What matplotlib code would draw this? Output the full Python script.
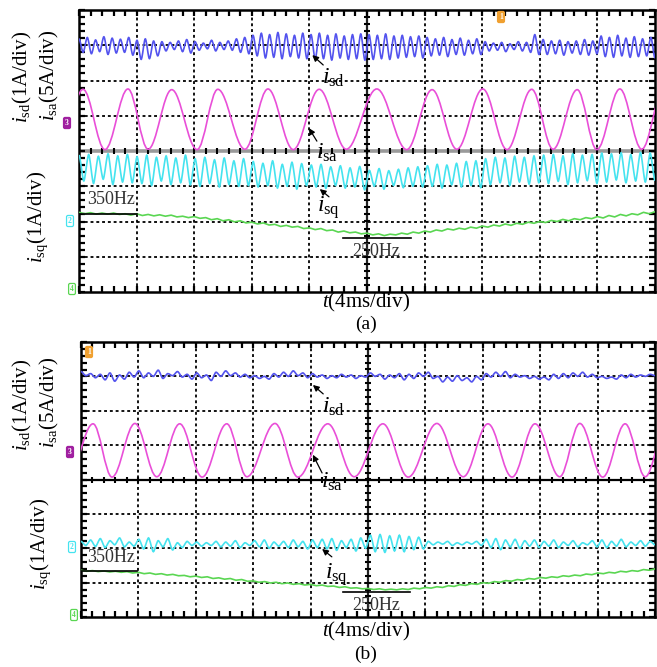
import numpy as np
import matplotlib
matplotlib.use('Agg')
import matplotlib.pyplot as plt
from matplotlib.path import Path
from matplotlib.patches import PathPatch
from matplotlib.ticker import MultipleLocator

plt.rcParams['font.family'] = ['Liberation Serif', 'DejaVu Serif']
plt.rcParams['mathtext.fontset'] = 'custom'
plt.rcParams['mathtext.rm'] = 'Liberation Serif'
plt.rcParams['mathtext.it'] = 'Liberation Serif:italic'

# ---------------- data (x in divisions, 4 ms/div; y in divisions) ----------------
# panel (a)
isd_a = [3.18, 2.80, 3.22, 2.76, 3.15, 2.82, 3.24, 2.74, 3.20, 2.78, 3.17, 2.80, 3.22, 2.72,
         3.14, 2.60, 3.18, 2.62, 3.12, 2.70, 3.10, 2.84, 3.08, 2.88, 3.12, 2.82, 3.16, 2.78,
         3.10, 2.86, 3.06, 2.90, 3.14, 2.84, 3.08, 2.88, 3.12, 2.86, 3.18, 2.80, 3.22, 2.76,
         3.28, 2.70, 3.34, 2.64, 3.30, 2.66, 3.36, 2.62, 3.32, 2.68, 3.28, 2.64, 3.34, 2.62,
         3.30, 2.60, 3.34, 2.62, 3.28, 2.58, 3.32, 2.64, 3.26, 2.60, 3.30, 2.62, 3.32, 2.58,
         3.30, 2.60, 3.28, 2.62, 3.32, 2.60, 3.26, 2.64, 3.28, 2.66, 3.24, 2.68, 3.26, 2.64,
         3.22, 2.70, 3.18, 2.72, 3.22, 2.68, 3.16, 2.74, 3.20, 2.72, 3.14, 2.76, 3.18, 2.74,
         3.10, 2.84, 3.06, 2.86, 3.08, 2.82, 3.04, 2.88, 3.10, 2.84, 3.08, 2.80, 3.30, 2.74,
         3.16, 2.74, 3.12, 2.76, 3.14, 2.72, 3.10, 2.78, 3.12, 2.74, 3.16, 2.72, 3.12, 2.76,
         3.26, 2.68, 3.22, 2.66, 3.28, 2.70, 3.20, 2.66, 3.24, 2.68, 3.18, 2.70, 3.22, 2.64]

isa_a_t = [-0.32, 0.07, 0.45, 0.85, 1.20, 1.61, 2.05, 2.41, 2.88, 3.28, 3.72, 4.17, 4.64,
           5.17, 5.69, 6.13, 6.56, 7.01, 7.43, 7.86, 8.23, 8.65, 8.99, 9.39, 9.77, 10.15]
isa_a_v = [0.05, 1.75, 0.04, 1.76, 0.05, 1.74, 0.04, 1.75, 0.05, 1.76, 0.04, 1.75, 0.05,
           1.76, 0.04, 1.74, 0.05, 1.76, 0.04, 1.75, 0.05, 1.74, 0.04, 1.76, 0.05, 1.75]

isq_a = [-0.12, -0.85, -0.10, -0.92, -0.15, -0.80, -0.08, -0.95, -0.14, -0.88, -0.10, -0.90,
         -0.16, -0.92, -0.12, -0.98, -0.18, -0.85, -0.14, -0.95, -0.20, -0.90, -0.12, -0.96,
         -0.22, -1.00, -0.18, -0.92, -0.25, -1.02, -0.20, -0.95, -0.28, -1.00, -0.22, -0.98,
         -0.30, -1.02, -0.35, -0.98, -0.28, -1.05, -0.38, -1.00, -0.32, -1.08, -0.36, -0.98,
         -0.40, -1.02, -0.38, -1.06, -0.45, -0.98, -0.42, -1.05, -0.48, -1.02, -0.44, -1.10,
         -0.55, -1.00, -0.50, -1.08, -0.56, -0.98, -0.52, -1.04, -0.48, -1.00, -0.45, -1.02,
         -0.42, -1.00, -0.38, -1.05, -0.40, -0.96, -0.35, -1.02, -0.30, -0.98, -0.28, -1.04,
         -0.22, -0.95, -0.18, -0.90, -0.20, -0.98, -0.15, -0.88, -0.18, -0.94, -0.14, -0.90,
         -0.12, -0.92, -0.10, -0.86, -0.14, -0.95, -0.08, -0.90, -0.12, -0.84, -0.10, -0.92,
         -0.06, -0.88, -0.08, -0.82, -0.05, -0.90, -0.10, -0.85, -0.04, -0.88, -0.06, -0.84]

freq_a = [-1.74, -1.78, -1.75, -1.79, -1.76, -1.79, -1.76, -1.80, -1.78, -1.82,
          -1.78, -1.83, -1.80, -1.84, -1.81, -1.85, -1.82, -1.87, -1.85, -1.89,
          -1.86, -1.91, -1.89, -1.95, -1.92, -1.98, -1.95, -2.01, -1.98, -2.04,
          -2.02, -2.07, -2.04, -2.10, -2.08, -2.14, -2.11, -2.16, -2.14, -2.20,
          -2.18, -2.23, -2.20, -2.26, -2.24, -2.30, -2.27, -2.32, -2.30, -2.35,
          -2.33, -2.38, -2.35, -2.40, -2.36, -2.38, -2.33, -2.36, -2.30, -2.33,
          -2.27, -2.30, -2.24, -2.27, -2.21, -2.24, -2.19, -2.22, -2.16, -2.19,
          -2.13, -2.16, -2.10, -2.13, -2.07, -2.11, -2.05, -2.08, -2.02, -2.05,
          -2.00, -2.03, -1.97, -2.00, -1.94, -1.98, -1.92, -1.95, -1.89, -1.92,
          -1.86, -1.90, -1.83, -1.87, -1.80, -1.84, -1.78, -1.81, -1.74, -1.78, -1.72]

# panel (b)
isd_b = [3.14, 3.02, 3.08, 2.96, 3.06, 2.90, 3.10, 2.86, 3.04, 2.92, 3.12, 2.98,
         3.16, 2.96, 3.10, 3.00, 3.18, 2.94, 3.08, 3.02, 3.14, 2.98, 3.06, 2.92,
         3.10, 2.96, 3.04, 2.88, 3.12, 3.00, 3.16, 3.02, 3.10, 2.98, 3.06, 2.96,
         3.02, 2.94, 3.00, 2.92, 3.08, 2.98, 3.12, 3.00, 3.16, 3.02, 3.10, 2.96,
         3.08, 2.98, 3.04, 2.94, 3.02, 2.96, 3.06, 2.98, 3.04, 2.94, 3.02, 2.98,
         3.10, 3.00, 3.06, 2.92, 3.04, 2.96, 3.08, 2.90, 3.06, 2.94, 3.10, 3.00,
         3.12, 2.94, 3.00, 2.84, 2.98, 2.86, 3.02, 2.88, 2.96, 2.84, 3.00, 2.90,
         3.08, 2.98, 3.12, 3.00, 3.14, 2.96, 3.06, 2.98, 3.02, 2.94, 3.00, 2.92,
         2.98, 2.90, 3.06, 2.94, 3.08, 2.96, 3.10, 3.00, 3.12, 2.98, 3.06, 2.96,
         3.00, 2.94, 2.98, 2.92, 3.04, 2.96, 3.06, 2.98, 3.04, 3.00, 3.06, 3.02]

isa_b_t = [-0.22, 0.21, 0.54, 0.94, 1.32, 1.72, 2.11, 2.54, 2.89, 3.38, 3.78, 4.30, 4.76,
           5.26, 5.70, 6.20, 6.66, 7.09, 7.51, 7.91, 8.34, 8.69, 9.09, 9.48, 9.83, 10.2]
isa_b_v = [0.08, 1.62, 0.07, 1.63, 0.08, 1.62, 0.07, 1.62, 0.08, 1.63, 0.07, 1.62, 0.08,
           1.62, 0.07, 1.63, 0.08, 1.62, 0.07, 1.62, 0.08, 1.63, 0.07, 1.62, 0.08, 1.62]

isq_b = [-1.80, -1.92, -1.76, -1.95, -1.72, -1.98, -1.78, -1.90, -1.70, -1.96, -1.82, -1.94,
         -1.74, -2.02, -1.70, -2.10, -1.78, -1.96, -1.72, -2.05, -1.84, -1.98, -1.80, -1.92,
         -1.82, -1.94, -1.84, -1.92, -1.80, -1.96, -1.82, -1.94, -1.78, -1.98, -1.84, -1.92,
         -1.78, -1.96, -1.76, -2.00, -1.82, -1.94, -1.80, -1.98, -1.76, -1.96, -1.80, -2.02,
         -1.76, -1.98, -1.74, -2.02, -1.72, -2.06, -1.78, -1.98, -1.74, -2.08, -1.70, -2.00,
         -1.62, -2.10, -1.60, -2.12, -1.64, -2.08, -1.62, -2.10, -1.66, -2.04, -1.68, -2.02,
         -1.80, -1.90, -1.82, -1.88, -1.80, -1.92, -1.84, -1.90, -1.82, -1.88, -1.80, -1.92,
         -1.74, -1.98, -1.72, -2.04, -1.76, -1.96, -1.74, -2.00, -1.78, -1.94, -1.76, -1.98,
         -1.80, -1.94, -1.76, -1.98, -1.82, -1.92, -1.78, -1.96, -1.84, -1.90, -1.78, -1.96,
         -1.76, -1.98, -1.80, -1.94, -1.74, -1.96, -1.82, -1.92, -1.78, -1.94, -1.80, -1.90]

freq_b = [-2.64, -2.67, -2.65, -2.68, -2.66, -2.69, -2.67, -2.70, -2.68, -2.72,
          -2.70, -2.74, -2.72, -2.76, -2.74, -2.78, -2.76, -2.80, -2.79, -2.83,
          -2.81, -2.85, -2.83, -2.88, -2.86, -2.90, -2.88, -2.93, -2.91, -2.96,
          -2.95, -2.99, -2.97, -3.01, -2.99, -3.03, -3.01, -3.05, -3.03, -3.07,
          -3.05, -3.09, -3.07, -3.11, -3.10, -3.14, -3.12, -3.16, -3.15, -3.18,
          -3.17, -3.20, -3.18, -3.21, -3.19, -3.21, -3.18, -3.20, -3.16, -3.18,
          -3.14, -3.16, -3.12, -3.14, -3.09, -3.11, -3.06, -3.08, -3.03, -3.05,
          -3.00, -3.02, -2.97, -2.99, -2.94, -2.96, -2.91, -2.93, -2.88, -2.90,
          -2.85, -2.87, -2.83, -2.85, -2.80, -2.82, -2.78, -2.80, -2.75, -2.77,
          -2.72, -2.74, -2.70, -2.72, -2.67, -2.69, -2.65, -2.67, -2.62, -2.64, -2.60]

freq_labels = ['350Hz', '250Hz']

# ---------------- styling ----------------
C_BLUE = '#5353ee'
C_MAG = '#e94fd8'
C_CYAN = '#45e3ef'
C_GREEN = '#5ad652'

W, H = 657, 667
fig = plt.figure(figsize=(W / 100, H / 100), dpi=100)


def px_axes(l, t, r, b):
    return fig.add_axes([l / W, 1 - b / H, (r - l) / W, (b - t) / H])


def setup(ax, hcenter_color, hcenter_lw):
    ax.set_xlim(0, 10)
    ax.set_ylim(-4, 4)
    for s in ax.spines.values():
        s.set_linewidth(1.8)
        s.set_color('black')
    ax.xaxis.set_major_locator(MultipleLocator(1))
    ax.yaxis.set_major_locator(MultipleLocator(1))
    ax.xaxis.set_minor_locator(MultipleLocator(0.2))
    ax.yaxis.set_minor_locator(MultipleLocator(0.2))
    ax.tick_params(which='both', direction='in', top=True, right=True,
                   length=4, width=1.6, color='black',
                   labelbottom=False, labelleft=False)
    for i in range(1, 10):
        if i != 5:
            ax.axvline(i, color='black', lw=1.3, ls=(0, (1.6, 1.6)), zorder=1)
    for j in range(-3, 4):
        if j != 0:
            ax.axhline(j, color='black', lw=1.3, ls=(0, (1.6, 1.6)), zorder=1)
    ax.axhline(0, color=hcenter_color, lw=hcenter_lw, zorder=1)
    ax.axvline(5, color='#222222', lw=1.6, zorder=1)
    xs = np.arange(0.2, 10, 0.2)
    ys = np.arange(-3.8, 4, 0.2)
    ax.plot(xs, np.zeros_like(xs), ls='none', marker='|', ms=4.5, mew=1.5,
            color='black', zorder=1.5)
    ax.plot(np.full_like(ys, 5.0), ys, ls='none', marker='_', ms=4.5, mew=1.5,
            color='black', zorder=1.5)


def smooth(ax, ts, vs, color, k=0.36, lw=1.2):
    verts = [(ts[0], vs[0])]
    codes = [Path.MOVETO]
    for i in range(len(ts) - 1):
        dt = ts[i + 1] - ts[i]
        verts += [(ts[i] + k * dt, vs[i]), (ts[i + 1] - k * dt, vs[i + 1]),
                  (ts[i + 1], vs[i + 1])]
        codes += [Path.CURVE4] * 3
    ax.add_patch(PathPatch(Path(verts, codes), fill=False, edgecolor=color,
                           lw=lw, zorder=3))


def arrow_label(ax, head, tail, txt_xy, txt):
    ax.annotate('', xy=head, xytext=tail,
                arrowprops=dict(arrowstyle='-|>', color='black', lw=0.9,
                                mutation_scale=9, shrinkA=0, shrinkB=0),
                zorder=5)
    ax.text(txt_xy[0], txt_xy[1], txt, fontsize=17, ha='center', va='center',
            zorder=5)


def chan(x, y, num, fc, ec, tc):
    fig.text(x / W, 1 - y / H, num, fontsize=5.5, color=tc, ha='center',
             va='center', fontweight='bold',
             bbox=dict(boxstyle='round,pad=0.2', fc=fc, ec=ec, lw=0.9))


axA = px_axes(79, 10, 655, 292)
axB = px_axes(81, 342, 655, 617)
setup(axA, '#9a9a9a', 2.6)
setup(axB, 'black', 1.6)

for ax, isd, isat, isav, isq, fr in [(axA, isd_a, isa_a_t, isa_a_v, isq_a, freq_a),
                                     (axB, isd_b, isa_b_t, isa_b_v, isq_b, freq_b)]:
    smooth(ax, np.linspace(0, 10, len(isd)), isd, C_BLUE, k=0.3)
    smooth(ax, isat, isav, C_MAG)
    smooth(ax, np.linspace(0, 10, len(isq)), isq, C_CYAN, k=0.25)
    ax.plot(np.linspace(0, 10, len(fr)), fr, color=C_GREEN, lw=1.2, zorder=3)

# annotations panel (a)
arrow_label(axA, (4.05, 2.72), (4.24, 2.44), (4.42, 2.08), r'$i_{\rm sd}$')
arrow_label(axA, (3.99, 0.65), (4.13, 0.28), (4.30, -0.05), r'$i_{\rm sa}$')
arrow_label(axA, (4.18, -1.08), (4.34, -1.30), (4.34, -1.60), r'$i_{\rm sq}$')
axA.plot([0, 1.0], [-1.79, -1.79], color='black', lw=1.2, zorder=4)
axA.text(0.56, -1.39, freq_labels[0], fontsize=13, color='#333333',
         ha='center', va='center', zorder=5)
axA.plot([4.58, 5.76], [-2.47, -2.47], color='black', lw=1.2, zorder=4)
axA.text(5.16, -2.84, freq_labels[1], fontsize=13, color='#333333',
         ha='center', va='center', zorder=5)

# annotations panel (b)
arrow_label(axB, (4.04, 2.75), (4.22, 2.49), (4.40, 2.12), r'$i_{\rm sd}$')
arrow_label(axB, (4.04, 0.72), (4.20, 0.19), (4.37, -0.08), r'$i_{\rm sa}$')
arrow_label(axB, (4.20, -2.02), (4.37, -2.25), (4.45, -2.76), r'$i_{\rm sq}$')
axB.plot([0, 0.98], [-2.66, -2.66], color='black', lw=1.2, zorder=4)
axB.text(0.52, -2.28, freq_labels[0], fontsize=13, color='#333333',
         ha='center', va='center', zorder=5)
axB.plot([4.56, 5.73], [-3.27, -3.27], color='black', lw=1.2, zorder=4)
axB.text(5.14, -3.67, freq_labels[1], fontsize=13, color='#333333',
         ha='center', va='center', zorder=5)

# axis labels
LFS = 15
for (x, y, s) in [(22, 77, r'$i_{\rm sd}$(1A/div)'), (49, 75, r'$i_{\rm sa}$(5A/div)'),
                  (38, 217, r'$i_{\rm sq}$(1A/div)'),
                  (22, 405, r'$i_{\rm sd}$(1A/div)'), (49, 402, r'$i_{\rm sa}$(5A/div)'),
                  (41, 544, r'$i_{\rm sq}$(1A/div)')]:
    fig.text(x / W, 1 - y / H, s, rotation=90, fontsize=LFS, ha='center', va='center')

fig.text(366 / W, 1 - 302 / H, r'$t$(4ms/div)', fontsize=15, ha='center', va='center')
fig.text(366 / W, 1 - 324 / H, '(a)', fontsize=14, ha='center', va='center')
fig.text(366 / W, 1 - 631 / H, r'$t$(4ms/div)', fontsize=15, ha='center', va='center')
fig.text(366 / W, 1 - 654 / H, '(b)', fontsize=14, ha='center', va='center')

# channel markers
chan(67, 123, '3', '#a020a0', '#a020a0', 'white')
chan(70, 221, '2', 'white', C_CYAN, C_CYAN)
chan(72, 289, '4', 'white', C_GREEN, C_GREEN)
chan(501, 17, '1', '#f0a030', '#f0a030', 'white')
chan(70, 452, '3', '#a020a0', '#a020a0', 'white')
chan(72, 547, '2', 'white', C_CYAN, C_CYAN)
chan(74, 615, '4', 'white', C_GREEN, C_GREEN)
chan(89, 352, '1', '#f0a030', '#f0a030', 'white')

fig.savefig('out.png', dpi=100)
